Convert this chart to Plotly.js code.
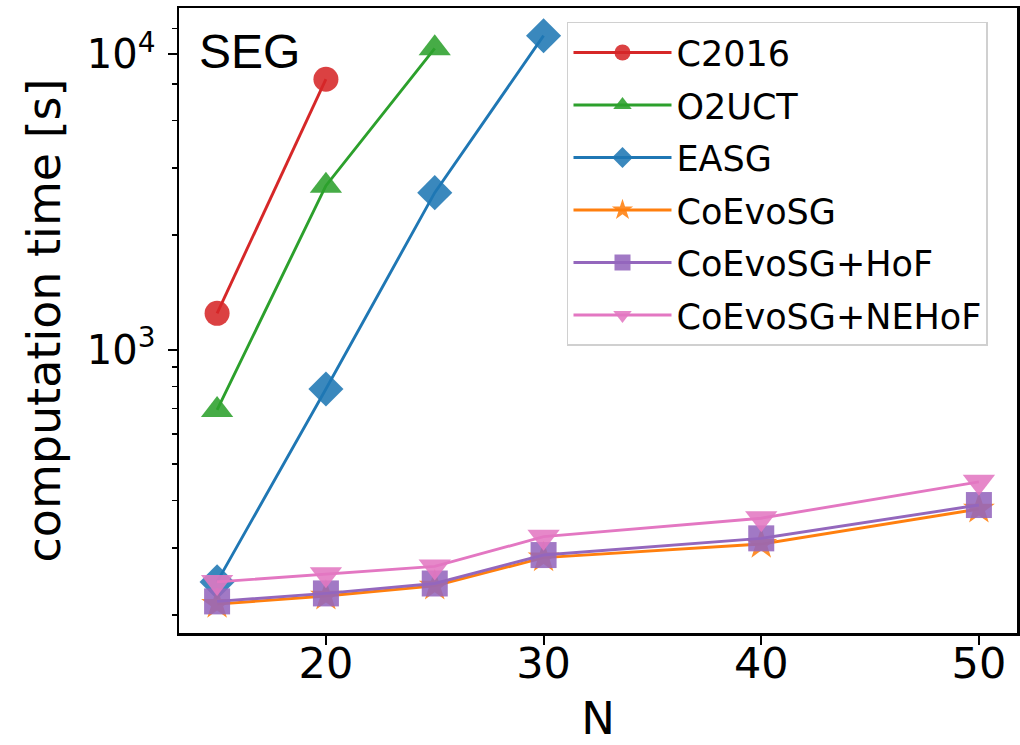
<!DOCTYPE html>
<html>
<head>
<meta charset="utf-8">
<script src="https://cdn.plot.ly/plotly-3.0.1.min.js"></script>
<style>html,body{margin:0;padding:0;background:#fff;}#chart{width:1020px;height:745px;}</style>
</head>
<body>
<div id="chart"></div>
<script>
// ---- data ----
const N_all   = [15, 20, 25, 30, 40, 50];
const N_c2016 = [15, 20];
const N_o2uct = [15, 20, 25];
const N_easg  = [15, 20, 25, 30];
const c2016   = [1326, 8245];
const o2uct   = [624, 3591, 10490];
const easg    = [163, 735, 3401, 11580];
const coevosg = [137, 146, 158, 197, 219, 288];
const hof     = [140, 149, 161, 201, 229, 297];
const nehof   = [163, 173, 184, 232, 268, 356];
const names   = ['C2016', 'O2UCT', 'EASG', 'CoEvoSG', 'CoEvoSG+HoF', 'CoEvoSG+NEHoF'];
const xTicks  = [20, 30, 40, 50];
const yTicks  = [1000, 10000];
const yTickText = ['10<sup>3</sup>', '10<sup>4</sup>'];

// ---- styles ----
const colors  = ['#d62728', '#2ca02c', '#1f77b4', '#ff7f0e', '#9467bd', '#e377c2'];
const mcolors = ['rgba(214,39,40,0.88)', 'rgba(44,160,44,0.88)', 'rgba(31,119,180,0.88)',
                 'rgba(255,127,14,0.88)', 'rgba(148,103,189,0.88)', 'rgba(227,119,194,0.88)'];
const symbols = ['circle', 'triangle-up', 'diamond', 'star', 'square', 'triangle-down'];
const sizes   = [25, 28, 27, 24, 26, 28];
const xs = [N_c2016, N_o2uct, N_easg, N_all, N_all, N_all];
const ys = [c2016, o2uct, easg, coevosg, hof, nehof];

const FONT = 'DejaVu Sans, sans-serif';

const traces = names.map((nm, i) => ({
  x: xs[i], y: ys[i], name: nm, type: 'scatter', mode: 'lines+markers',
  legendgroup: 'g' + i,
  line: {color: colors[i], width: 2.9},
  marker: {symbol: symbols[i], size: sizes[i], color: mcolors[i], line: {width: 0}}
}));

// minor tick marks as they appear on the reference frame
const minorK = [0.2, 0.3, 0.4, 0.5, 0.6, 0.7, 0.8, 0.9, 2, 3, 4, 5, 7];
const minorVals = minorK.map(k => 1000 * Math.pow(10, Math.log10(k) * 380 / 295));

const layout = {
  width: 1020, height: 745,
  margin: {l: 179, r: 3, t: 8, b: 112},
  paper_bgcolor: '#fff', plot_bgcolor: '#fff',
  font: {family: FONT, color: '#000'},
  showlegend: true,
  xaxis: {
    range: [13.25, 51.75], tickvals: xTicks, ticks: 'outside', ticklen: 9, tickwidth: 2,
    tickcolor: '#000', showgrid: false, zeroline: false,
    showline: true, mirror: true, linecolor: '#000', linewidth: 2.5,
    tickfont: {family: FONT, size: 43, color: '#000'},
    ticklabelstandoff: -18,
    title: {text: 'N', font: {family: FONT, size: 45, color: '#000'}, standoff: 22}
  },
  yaxis: {
    type: 'log', range: [2.039, 4.1576],
    tickvals: yTicks, ticktext: yTickText, ticks: 'outside', ticklen: 9, tickwidth: 2,
    tickcolor: '#000', showgrid: false, zeroline: false,
    showline: true, mirror: true, linecolor: '#000', linewidth: 2.5,
    tickfont: {family: FONT, size: 40, color: '#000'},
    ticklabelstandoff: 4,
    minor: {tickvals: minorVals, ticks: 'outside', ticklen: 5, tickwidth: 1.5, tickcolor: '#000', showgrid: false},
    title: {text: 'computation time [s]', font: {family: FONT, size: 46, color: '#000'}, standoff: 12}
  },
  legend: {
    x: 0.463, y: 0.978, xanchor: 'left', yanchor: 'top',
    bgcolor: 'rgba(255,255,255,0.85)', bordercolor: '#d0d0d0', borderwidth: 1.5,
    font: {family: FONT, size: 35, color: '#000'},
    traceorder: 'grouped', tracegroupgap: 4, itemwidth: 98, itemsizing: 'trace'
  },
  annotations: [{
    xref: 'paper', yref: 'paper', x: 0.022, y: 0.931, xanchor: 'left', yanchor: 'middle',
    text: 'SEG', showarrow: false,
    font: {family: 'Liberation Sans, Arial, sans-serif', size: 48, color: '#000'}
  }]
};

Plotly.newPlot('chart', traces, layout, {displayModeBar: false, staticPlot: true});
</script>
</body>
</html>
